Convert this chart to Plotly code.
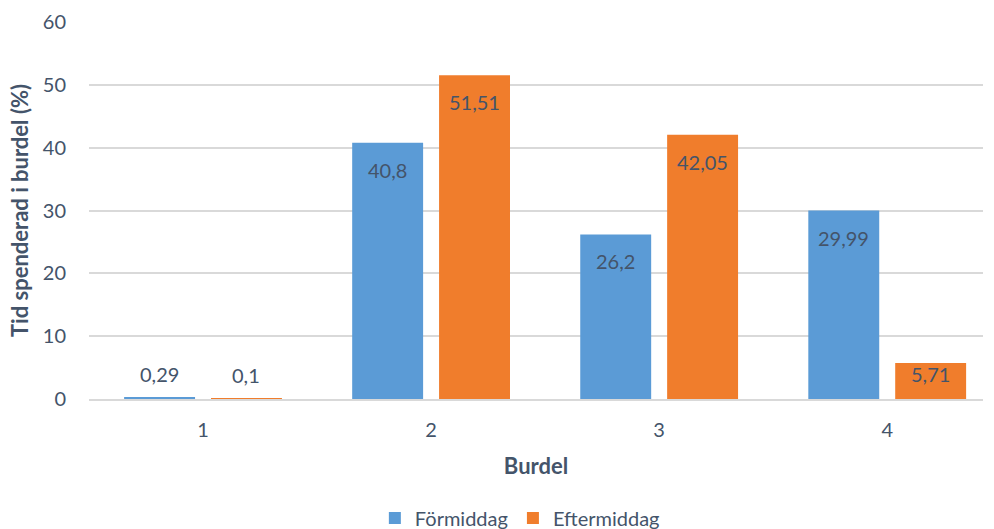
import plotly.graph_objects as go

categories = ["1", "2", "3", "4"]
formiddag = [0.29, 40.8, 26.2, 29.99]
eftermiddag = [0.1, 51.51, 42.05, 5.71]
series_names = ["Förmiddag", "Eftermiddag"]
y_ticks = [0, 10, 20, 30, 40, 50, 60]

def fmt(v):
    return ("%g" % v).replace(".", ",")

FONT = "Lato, 'Open Sans', sans-serif"
TXT = "#44546A"
Y_MAX = 60
PLOT_H = 377  # px height of plot area (for label placement rule)

BAR_W = 0.311
GAP = 0.07
offsets = [-(BAR_W + GAP / 2), GAP / 2]
colors = ["#5b9bd6", "#f07d2c"]

xpos = list(range(len(categories)))

fig = go.Figure()
annotations = []
for name, vals, col, off in [(series_names[0], formiddag, colors[0], offsets[0]),
                             (series_names[1], eftermiddag, colors[1], offsets[1])]:
    fig.add_trace(go.Bar(
        x=xpos, y=vals, name=name,
        width=BAR_W, offset=off,
        marker=dict(color=col, line=dict(width=0)),
        hoverinfo="y",
    ))
    for xi, v in zip(xpos, vals):
        h = v / Y_MAX * PLOT_H
        if h > 54:
            shift = -27
        elif h > 25:
            shift = -(h - 14) / 2
        else:
            shift = 23
        annotations.append(dict(
            x=xi + off + BAR_W / 2, y=v, xref="x", yref="y",
            text=fmt(v), showarrow=False, yanchor="middle", yshift=shift,
            font=dict(family=FONT, size=20, color=TXT),
        ))

fig.update_layout(
    width=994, height=529,
    margin=dict(l=89, r=11, t=22, b=130, autoexpand=False),
    paper_bgcolor="white", plot_bgcolor="white",
    barmode="overlay",
    font=dict(family=FONT, size=20, color=TXT),
    annotations=annotations,
    xaxis=dict(
        range=[-0.5, 3.42], tickvals=xpos, ticktext=categories,
        showgrid=False, showline=True, zeroline=False,
        linecolor="#D9D9D9", linewidth=1.5, ticks="",
        ticklabelstandoff=12,
        tickfont=dict(size=20, color=TXT),
        title=dict(text="<b>Burdel</b>", font=dict(size=22, color=TXT), standoff=19),
    ),
    yaxis=dict(
        range=[0, Y_MAX], tickvals=y_ticks, showgrid=True,
        gridcolor="#D9D9D9", gridwidth=1.5, zeroline=False,
        ticks="", ticklabelstandoff=22,
        tickfont=dict(size=20, color=TXT),
        title=dict(text="<b>Tid spenderad i burdel (%)</b>", font=dict(size=22, color=TXT), standoff=8),
    ),
    legend=dict(orientation="h", x=0.523, xanchor="center", xref="container",
                y=0.021, yanchor="middle", yref="container",
                font=dict(size=20, color=TXT), traceorder="normal"),
)

fig.write_html("out.html")
